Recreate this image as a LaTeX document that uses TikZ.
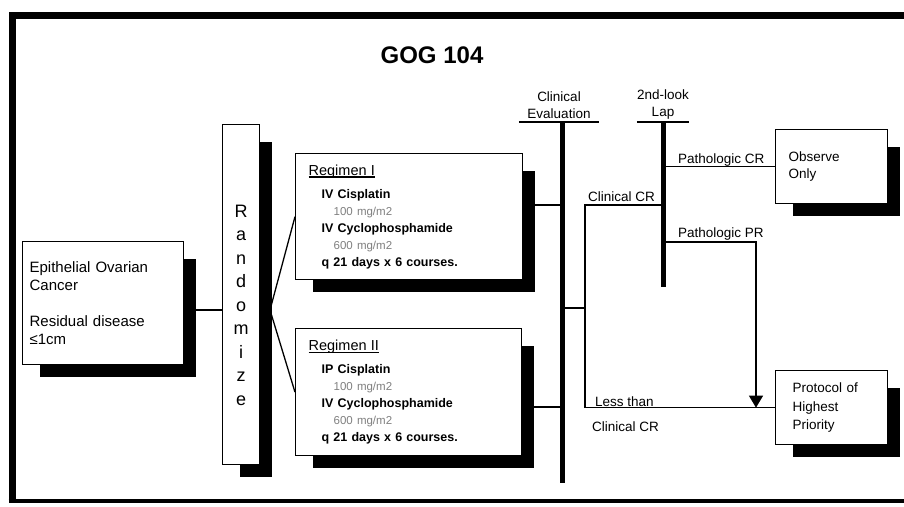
\documentclass[tikz,border=0pt]{standalone}
\usepackage{fontspec}
\setmainfont{Liberation Sans}
\usetikzlibrary{positioning,backgrounds,arrows.meta}
\definecolor{doseGray}{gray}{0.5}
\newcommand{\dosetext}[1]{{\mdseries\color{doseGray}\fontsize{11.5}{17}\selectfont #1}}
\newcommand{\regtitle}[1]{{\mdseries\fontsize{14.5}{17}\selectfont\setbox0\hbox{#1}\rlap{\rule[-2.5pt]{\wd0}{1.2pt}}\box0}}

\begin{document}
\begin{tikzpicture}[
  x=1pt, y=-1pt,
  box/.style={draw, line width=1.3pt, fill=white, align=left, anchor=north west, inner ysep=0pt},
  lbl/.style={inner sep=0pt, font=\fontsize{13.5}{17}\selectfont},
  bar/.style={line width=5pt},
  link/.style={line width=1.3pt},
  arrow/.style={link, -{Triangle[width=14pt,length=12pt]}}
]
\useasboundingbox (0,0) rectangle (904,506);
\draw[line width=7pt] (930,15.5) -- (12,15.5) -- (12,502);
\draw[line width=4pt] (8.5,500.5) -- (930,500.5);

\node (title) [font=\fontsize{24}{28}\selectfont\bfseries] at (432,55) {GOG 104};

\node (cancer) [box, text width=147pt, inner xsep=7pt, minimum height=123pt, font=\fontsize{15}{18}\selectfont] at (22,241)
  {Epithelial Ovarian\\Cancer\\[18pt]Residual disease\\≤1cm};
\node (rand) [box, align=center, text width=23pt, inner xsep=7pt, minimum height=340pt, font=\fontsize{18}{23.5}\selectfont] at (222,124)
  {\rule{0pt}{33pt}R\\a\\n\\d\\o\\m\\i\\z\\e};
\node (regA) [box, text width=201pt, inner xsep=13pt, minimum height=126pt, font=\fontsize{12.5}{17}\selectfont\bfseries] at (295,153)
  {\regtitle{Regimen I}\\[6pt]
   \hspace*{13pt}IV Cisplatin\\
   \hspace*{25pt}\dosetext{100 mg/m2}\\
   \hspace*{13pt}IV Cyclophosphamide\\
   \hspace*{25pt}\dosetext{600 mg/m2}\\
   \hspace*{13pt}q 21 days x 6 courses.};
\node (regB) [box, text width=200pt, inner xsep=13pt, minimum height=127pt, font=\fontsize{12.5}{17}\selectfont\bfseries] at (295,328)
  {\regtitle{Regimen II}\\[6pt]
   \hspace*{13pt}IP Cisplatin\\
   \hspace*{25pt}\dosetext{100 mg/m2}\\
   \hspace*{13pt}IV Cyclophosphamide\\
   \hspace*{25pt}\dosetext{600 mg/m2}\\
   \hspace*{13pt}q 21 days x 6 courses.};
\node (observe) [box, text width=86pt, inner xsep=13pt, minimum height=74pt, font=\fontsize{13.5}{17}\selectfont] at (775,129)
  {Observe\\Only};
\node (protocol) [box, text width=78pt, inner xsep=17pt, minimum height=74pt, font=\fontsize{13.5}{18.5}\selectfont] at (775,370)
  {Protocol of\\Highest\\Priority};

\begin{scope}[on background layer]
\foreach \b in {cancer,rand,regA,regB,observe,protocol}
  \fill ([shift={(18,18)}]\b.north west) rectangle ([shift={(12,12)}]\b.south east);
\end{scope}

\coordinate (fork) at (270,310);
\coordinate (evaltop) at (562,122);
\coordinate (evalbot) at (562,483);
\coordinate (evalA) at (562,205);
\coordinate (evalB) at (562,407);
\coordinate (evalC) at (562,308);
\coordinate (split) at (585,308);
\coordinate (laptop) at (663,122);
\coordinate (lapbot) at (663,287);
\coordinate (lapcr) at (663,205);
\coordinate (prturn) at (756,242);

\node (evallbl) [lbl, align=center, minimum width=80pt, above=3pt of evaltop, xshift=-3pt] {Clinical\\Evaluation};
\node (laplbl) [lbl, align=center, minimum width=52pt, above=3pt of laptop] {2nd-look\\Lap};
\draw[line width=2pt] (evallbl.south west |- evaltop) -- (evallbl.south east |- evaltop);
\draw[line width=2pt] (laplbl.south west |- laptop) -- (laplbl.south east |- laptop);
\draw[bar] (evaltop) -- (evalbot);
\draw[bar] (laptop) -- (lapbot);

\draw[link] (cancer.east |- fork) -- (rand.west |- fork);
\draw[link] (fork) -- (regA.west);
\draw[link] (fork) -- (regB.west);
\draw[link] (regA.east |- evalA) -- (evalA);
\draw[link] (regB.east |- evalB) -- (evalB);
\draw[link] (evalC) -- (split);
\draw[link] (lapcr) -| (split) |- (protocol.west);
\draw[link] (laptop |- observe.west) -- (observe.west);
\draw[arrow] (laptop |- prturn) -| (prturn |- protocol.west);

\node (crlbl) [lbl, anchor=base west] at (588,201) {Clinical CR};
\node (pcrlbl) [lbl, anchor=base west] at (678,163.5) {Pathologic CR};
\node (pprlbl) [lbl, anchor=base west] at (678,237.5) {Pathologic PR};
\node (lesslbl) [lbl, anchor=base west] at (595,406.5) {Less than};
\node (lesscr) [lbl, anchor=base west] at (592,431) {Clinical CR};
\end{tikzpicture}
\end{document}
